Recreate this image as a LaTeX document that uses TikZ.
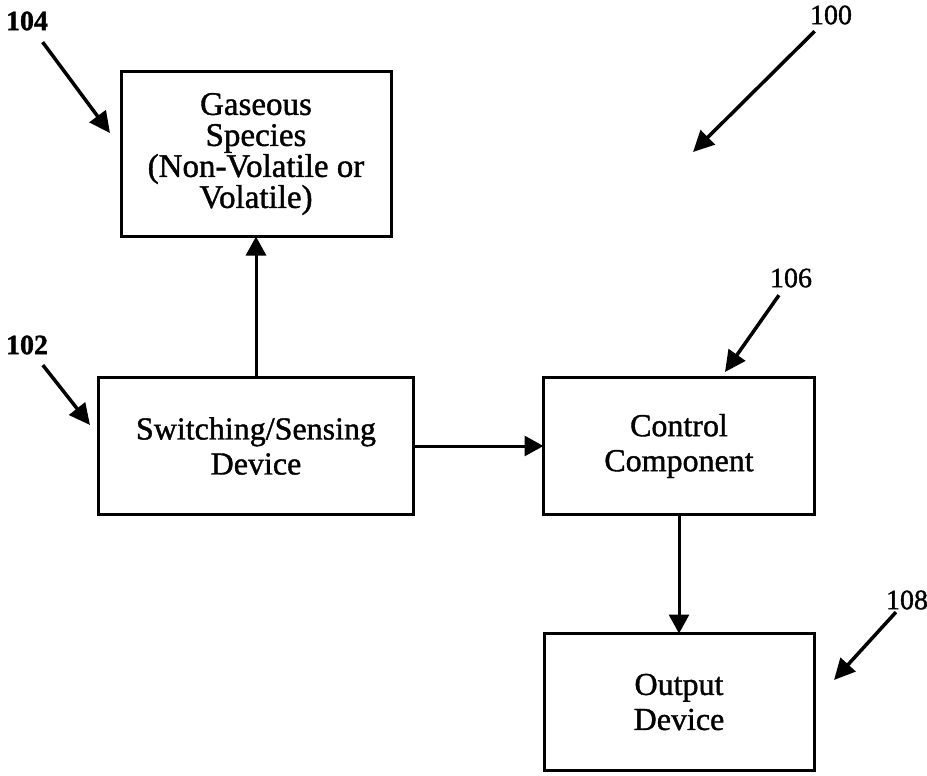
\documentclass[tikz,border=0pt]{standalone}
\usepackage{fontspec}
\setmainfont{Liberation Serif}[RawFeature={embolden=1.2}]
\usetikzlibrary{positioning,arrows.meta}

\begin{document}
\begin{tikzpicture}[x=1pt, y=-1pt,
  box/.style = {draw, line width=3pt, outer sep=0pt, minimum width=270pt,
    minimum height=137pt, align=center, font=\fontsize{32}{35}\selectfont},
  arr/.style = {line width=3pt, -{Triangle[length=19pt,width=20pt]}},
  refnum/.style = {font=\fontsize{28}{30}\selectfont, inner sep=1pt},
  ptr/.style = {line width=3.5pt, shorten <=8pt,
    -{Triangle[length=21pt,width=20pt]}}
  ]
  \useasboundingbox (0,0) rectangle (927,776);

  \node (gas) [box, minimum height=165pt, font=\fontsize{33}{31}\selectfont]
    at (256,154) {Gaseous\\Species\\(Non-Volatile or\\Volatile)};
  \node (sw) [box, minimum width=315pt, below=141pt of gas]
    {Switching/Sensing\\Device};
  \node (ctrl) [box, minimum width=271pt, right=130pt of sw]
    {Control\\Component};
  \node (out) [box, below=119pt of ctrl] {Output\\Device};

  \draw[arr] (sw) -- (gas);
  \draw[arr] (sw) -- (ctrl);
  \draw[arr] (ctrl) -- (out);

  % reference numerals
  \node (l104) [refnum, font=\fontsize{28}{30}\selectfont\bfseries] at (27,21) {104};
  \node (l100) [refnum] at (831,15) {100};
  \node (l102) [refnum, font=\fontsize{28}{30}\selectfont\bfseries] at (27,345) {102};
  \node (l106) [refnum] at (791,278) {106};
  \node (l108) [refnum] at (907,600) {108};

  \coordinate (t104) at (110,133);
  \coordinate (t100) at (693,152);
  \coordinate (t102) at (90,425);
  \coordinate (t106) at (725,372);
  \coordinate (t108) at (834,680);

  \draw[ptr, shorten <=13pt] (l104) -- (t104);
  \draw[ptr] (l100) -- (t100);
  \draw[ptr, shorten <=12pt] (l102) -- (t102);
  \draw[ptr] (l106) -- (t106);
  \draw[ptr, shorten <=2pt] (l108) -- (t108);
\end{tikzpicture}
\end{document}
